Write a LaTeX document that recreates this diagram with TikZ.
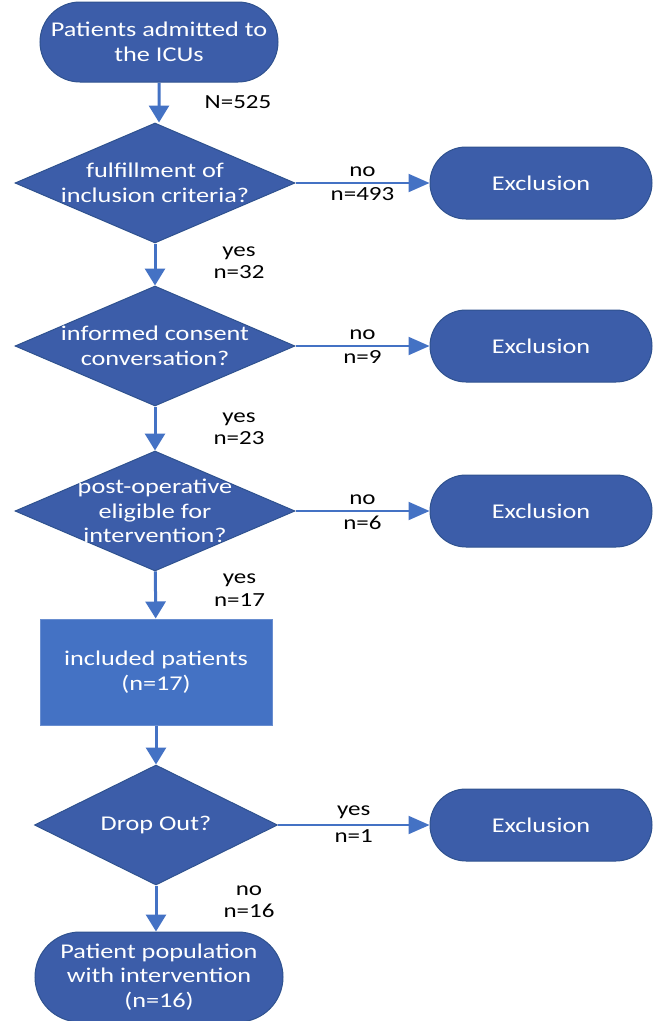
\documentclass[tikz,border=0pt]{standalone}
\usepackage{fontspec}
\setmainfont[FakeStretch=1.25]{Carlito}
\usetikzlibrary{arrows.meta,shapes.geometric,shapes.misc}
\definecolor{darkblue}{HTML}{3C5DA9}
\definecolor{midblue}{HTML}{4472C4}
\definecolor{edgeblue}{HTML}{2F528F}
\begin{document}
\begin{tikzpicture}[x=1pt,y=-1pt,
    box/.style={fill=darkblue,draw=edgeblue,line width=1pt,text=white,align=center,
        font=\fontsize{21}{24.5}\selectfont},
    term/.style={box,rounded rectangle,inner sep=0pt},
    dec/.style={box,diamond,aspect=2.3,inner sep=-9pt},
    proc/.style={box,rectangle,fill=midblue,draw=midblue!80!white,minimum width=232,minimum height=106},
    lab/.style={align=center,font=\fontsize{20}{22.5}\selectfont},
    arr/.style={draw=midblue,line width=3pt,-{Triangle[width=20pt,length=17pt]}},
    harr/.style={draw=midblue,line width=2pt,-{Triangle[width=18pt,length=21pt]}}
    ]
    \useasboundingbox (0,0) rectangle (667,1021);
    % main column
    \node[term,minimum width=238,minimum height=80] (start) at (159,42) {Patients admitted to\\the ICUs};
    \node[dec,minimum width=280,minimum height=120] (d1) at (155,183) {fulfillment of\\inclusion criteria?};
    \node[dec,minimum width=280,minimum height=120] (d2) at (155,346) {informed consent\\conversation?};
    \node[dec,minimum width=280,minimum height=120] (d3) at (155,511) {post-operative\\eligible for\\intervention?};
    \node[proc] (incl) at (156,672) {included patients\\(n=17)};
    \node[dec,minimum width=243,minimum height=120] (d4) at (156,825) {Drop Out?};
    \node[term,minimum width=248,minimum height=90] (final) at (159,977) {Patient population\\with intervention\\(n=16)};
    % exclusions
    \foreach \n/\y in {x1/183,x2/346,x3/511,x4/825}
        \node[term,minimum width=222,minimum height=72] (\n) at (541,\y) {Exclusion};
    % vertical arrows
    \draw[arr] (start) -- (start |- d1.north) node[midway,xshift=79,lab] (l0) {N=525};
    \draw[arr] (d1) -- (d2) node[midway,xshift=84,yshift=2,lab] (l1) {yes\\n=32};
    \draw[arr] (d2) -- (d3) node[midway,xshift=84,lab] (l2) {yes\\n=23};
    \draw[arr] (d3) -- (incl) node[pos=0.4,xshift=84,lab] (l3) {yes\\n=17};
    \draw[arr] (incl) -- (d4);
    \draw[arr] (d4) -- (d4 |- final.north) node[pos=0.35,xshift=93,lab] (l4) {no\\n=16};
    % horizontal arrows
    \foreach \d/\x/\a/\b in {d1/x1/no/n=493,d2/x2/no/n=9,d3/x3/no/n=6,d4/x4/yes/n=1}
        \draw[harr] (\d.east) -- (\x.west)
            node[midway,above,lab,inner sep=5pt] (\d a) {\a}
            node[midway,below,lab,inner sep=4pt] (\d b) {\b};
\end{tikzpicture}
\end{document}
